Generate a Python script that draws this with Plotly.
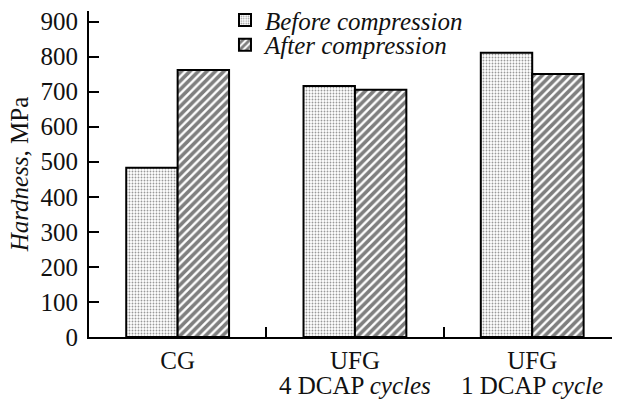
import plotly.graph_objects as go

categories = ["CG", "UFG4", "UFG1"]
first_line = ["CG", "UFG", "UFG"]
second_line = ["", "4 DCAP <i>cycles</i>", "1 DCAP <i>cycle</i>"]
before = [483, 716, 811]
after = [762, 705, 750]
y_ticks = [0, 100, 200, 300, 400, 500, 600, 700, 800, 900]

FONT = "'Liberation Serif', 'Times New Roman', Times, serif"
INK = "#111"
FS = 25

fig = go.Figure()
fig.add_trace(go.Bar(
    x=categories, y=before, name="<i>Before compression</i>", legend="legend",
    marker=dict(color="white", line=dict(color="black", width=2),
                pattern=dict(shape=".", size=3, solidity=0.3, fgcolor="#333", bgcolor="white")),
))
fig.add_trace(go.Bar(
    x=categories, y=after, name="<i>After compression</i>", legend="legend2",
    marker=dict(color="white", line=dict(color="black", width=2),
                pattern=dict(shape="/", size=6, solidity=0.6, fgcolor="black", bgcolor="white")),
))

for c, t in zip(categories, second_line):
    if t:
        fig.add_annotation(x=c, xref="x", y=0, yref="y", text=t, showarrow=False,
                           yanchor="top", yshift=-33, font=dict(family=FONT, size=FS, color=INK))

leg_common = dict(xanchor="left", yanchor="middle", bgcolor="rgba(0,0,0,0)",
                  font=dict(family=FONT, size=FS, color=INK), itemwidth=30)

fig.update_layout(
    width=619, height=399,
    margin=dict(l=89, r=7, t=11, b=62, autoexpand=False),
    paper_bgcolor="white", plot_bgcolor="white",
    barmode="group", bargap=0.42, bargroupgap=0,
    font=dict(family=FONT, size=FS, color=INK),
    showlegend=True,
    legend=dict(x=0.26, y=0.972, **leg_common),
    legend2=dict(x=0.26, y=0.896, **leg_common),
    xaxis=dict(type="category", range=[-0.5, 2.45], tickmode="array",
               tickvals=categories, ticktext=first_line,
               tickson="boundaries", ticks="inside", ticklen=10, tickwidth=1.5,
               tickcolor="black", showline=True, linecolor="black", linewidth=2,
               showgrid=False, zeroline=False, tickfont=dict(size=FS)),
    yaxis=dict(range=[0, 930], tickmode="array", tickvals=y_ticks,
               ticks="inside", ticklen=10, tickwidth=1.5, tickcolor="black",
               showline=True, linecolor="black", linewidth=2, showgrid=False,
               zeroline=False, tickfont=dict(size=FS), ticklabelstandoff=4,
               title=dict(text="<i>Hardness</i>, MPa", font=dict(size=FS), standoff=5)),
)

fig.write_html("out.html")
